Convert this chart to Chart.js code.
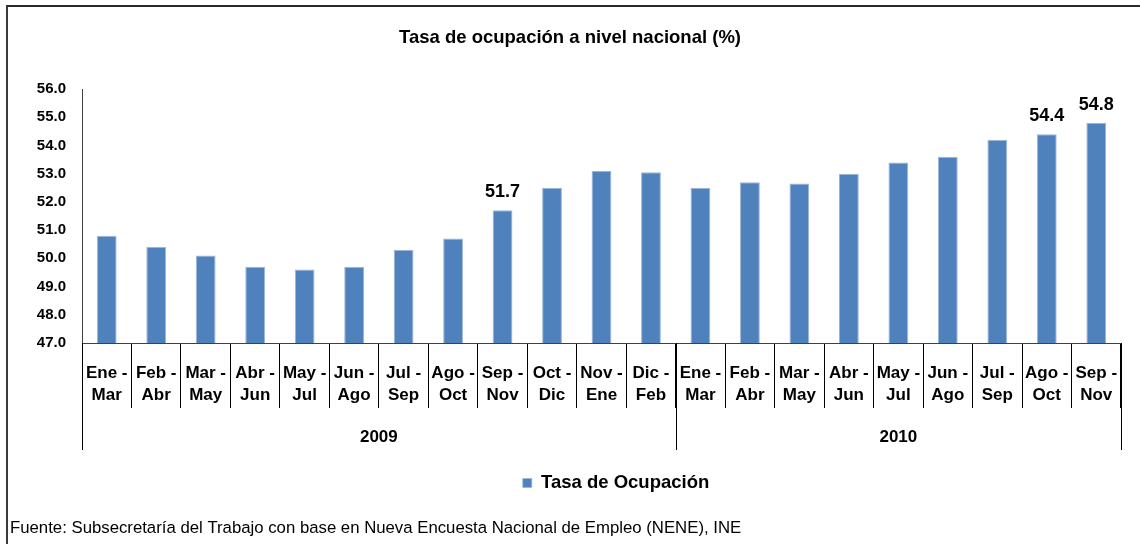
<!DOCTYPE html>
<html>
<head>
<meta charset="utf-8">
<script src="https://cdn.jsdelivr.net/npm/chart.js@4.4.0/dist/chart.umd.min.js"></script>
<style>
html,body{margin:0;padding:0;background:#fff;}
#wrap{position:relative;width:1140px;height:544px;overflow:hidden;}
#frame{position:absolute;left:6px;top:5px;width:1200px;height:600px;border-left:2px solid #3a3a3a;border-top:2px solid #2a2a2a;box-sizing:border-box;pointer-events:none;}
canvas{position:absolute;left:0;top:0;}
</style>
</head>
<body>
<div id="wrap"><canvas id="c" width="1140" height="544"></canvas><div id="frame"></div></div>
<script>
// ---- data ----
const periods = [
  ['Ene -','Mar'], ['Feb -','Abr'], ['Mar -','May'], ['Abr -','Jun'], ['May -','Jul'], ['Jun -','Ago'],
  ['Jul -','Sep'], ['Ago -','Oct'], ['Sep -','Nov'], ['Oct -','Dic'], ['Nov -','Ene'], ['Dic -','Feb'],
  ['Ene -','Mar'], ['Feb -','Abr'], ['Mar -','May'], ['Abr -','Jun'], ['May -','Jul'], ['Jun -','Ago'],
  ['Jul -','Sep'], ['Ago -','Oct'], ['Sep -','Nov']
];
const years = ['2009', '2010'];
const yearCounts = [12, 9];
const rates = [50.8, 50.4, 50.1, 49.7, 49.6, 49.7, 50.3, 50.7, 51.7, 52.5, 53.1, 53.05,
               52.5, 52.7, 52.65, 53.0, 53.4, 53.6, 54.2, 54.4, 54.8];
const labelledIdx = [8, 19, 20];
const seriesName = 'Tasa de Ocupación';
const titleText = 'Tasa de ocupación a nivel nacional (%)';
const sourceText = 'Fuente: Subsecretaría del Trabajo con base en Nueva Encuesta Nacional de Empleo (NENE), INE';

const FF = "'Liberation Sans', Arial, Helvetica, sans-serif";
Chart.defaults.font.family = FF;
Chart.defaults.color = '#000';

const yearGroups = {
  id: 'yearGroups',
  afterDraw(chart) {
    const x = chart.scales.x, ctx = chart.ctx;
    ctx.save();
    ctx.strokeStyle = '#000';
    ctx.lineWidth = 1;
    ctx.fillStyle = '#000';
    ctx.font = 'bold 17px ' + FF;
    ctx.textAlign = 'center';
    ctx.textBaseline = 'middle';
    let start = 0;
    years.forEach((yr, k) => {
      const x0 = x.getPixelForValue(start - 0.5);
      const x1 = x.getPixelForValue(start + yearCounts[k] - 0.5);
      [x0, x1].forEach(px => {
        const p = Math.round(px) + 0.5;
        ctx.beginPath();
        ctx.moveTo(p, x.top);
        ctx.lineTo(p, x.top + 107);
        ctx.stroke();
      });
      ctx.fillText(yr, (x0 + x1) / 2, x.top + 94);
      start += yearCounts[k];
    });
    ctx.restore();
  }
};

const valueLabels = {
  id: 'valueLabels',
  afterDatasetsDraw(chart) {
    const meta = chart.getDatasetMeta(0), ctx = chart.ctx;
    ctx.save();
    ctx.fillStyle = '#000';
    ctx.font = 'bold 18px ' + FF;
    ctx.textAlign = 'center';
    ctx.textBaseline = 'middle';
    labelledIdx.forEach(i => {
      const el = meta.data[i];
      ctx.fillText(rates[i].toFixed(1), el.x, el.y - 18);
    });
    ctx.restore();
  }
};

const legendShift = {
  id: 'legendShift',
  afterLayout(chart) {
    const l = chart.legend;
    if (l) { l.left += 46; l.right += 46; }
  }
};

new Chart(document.getElementById('c'), {
  type: 'bar',
  data: {
    labels: periods,
    datasets: [{
      label: seriesName,
      data: rates,
      backgroundColor: '#4F81BD',
      borderColor: '#9CB5D9',
      borderWidth: {top: 1, left: 1, right: 1, bottom: 0},
      barPercentage: 0.4,
      categoryPercentage: 1.0
    }]
  },
  options: {
    responsive: false,
    animation: false,
    layout: {padding: {left: 10, right: 10, top: 0, bottom: 0}},
    plugins: {
      title: {
        display: true,
        text: titleText,
        font: {size: 18.5, weight: 'bold'},
        color: '#000',
        padding: {top: 27, bottom: 39.8}
      },
      subtitle: {
        display: true,
        position: 'bottom',
        align: 'start',
        text: sourceText,
        font: {size: 16.75, weight: 'normal'},
        color: '#000',
        padding: {top: 15.7, bottom: 5.95}
      },
      legend: {
        display: true,
        position: 'bottom',
        labels: {
          boxWidth: 9,
          boxHeight: 9,
          padding: 10,
          font: {size: 18.5, weight: 'bold'},
          color: '#000'
        }
      },
      tooltip: {enabled: false}
    },
    scales: {
      x: {
        type: 'category',
        offset: true,
        grid: {
          display: true,
          offset: true,
          drawOnChartArea: false,
          drawTicks: true,
          tickLength: 65,
          color: '#000',
          lineWidth: 1
        },
        border: {display: true, color: '#404040', width: 1},
        ticks: {
          font: {size: 17, weight: 'bold', lineHeight: 1.3},
          color: '#000',
          padding: -46,
          maxRotation: 0,
          minRotation: 0,
          autoSkip: false
        },
        afterFit(s) { s.height = 120.75; }
      },
      y: {
        min: 47,
        max: 56,
        ticks: {
          stepSize: 1,
          font: {size: 15, weight: 'bold'},
          color: '#000',
          padding: 8,
          callback: v => Number(v).toFixed(1)
        },
        grid: {display: false},
        border: {display: true, color: '#404040', width: 1},
        afterFit(s) { s.width = 72; }
      },
      y2: {
        position: 'right',
        display: true,
        grid: {display: false},
        border: {display: false},
        ticks: {display: false},
        afterFit(s) { s.width = 9; }
      }
    }
  },
  plugins: [yearGroups, valueLabels, legendShift]
});
</script>
</body>
</html>
